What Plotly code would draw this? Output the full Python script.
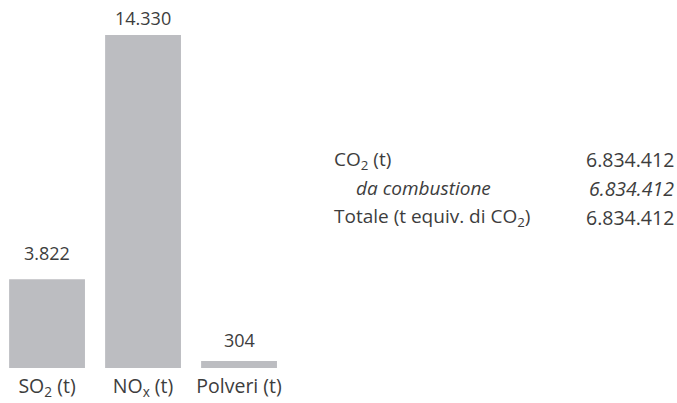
import plotly.graph_objects as go

categories = ["SO<sub>2</sub> (t)", "NO<sub>x</sub> (t)", "Polveri (t)"]
values = [3822, 14330, 304]
value_labels = ["3.822", "14.330", "304"]

table_labels = ["CO<sub>2</sub> (t)", "<i>da combustione</i>", "Totale (t equiv. di CO<sub>2</sub>)"]
table_values = ["6.834.412", "<i>6.834.412</i>", "6.834.412"]

FONT = "Open Sans"
TXT = "#3d3d3d"
W, H = 677, 403
plot_h = 368

fig = go.Figure(go.Bar(
    x=[0, 1, 2], y=values, cliponaxis=False,
    marker=dict(color="#bcbdc1", line=dict(width=0)), width=0.79,
))

label_shift = [26, 17, 21]
for i, (v, t) in enumerate(zip(values, value_labels)):
    fig.add_annotation(text=t, x=i, y=v, xref="x", yref="y", showarrow=False,
                       yanchor="middle", yshift=label_shift[i],
                       font=dict(family=FONT, size=18, color=TXT))

table_y = [160, 188, 217]
table_x_label = [332, 354, 332]
for lab, val, py, px in zip(table_labels, table_values, table_y, table_x_label):
    fig.add_annotation(text=lab, xref="paper", yref="paper", x=px / W, y=1 - py / plot_h,
                       xanchor="left", yanchor="middle", showarrow=False,
                       font=dict(family=FONT, size=19, color=TXT))
    fig.add_annotation(text=val, xref="paper", yref="paper", x=676 / W, y=1 - py / plot_h,
                       xanchor="right", yanchor="middle", showarrow=False,
                       font=dict(family=FONT, size=19.5, color=TXT))

fig.update_layout(
    width=W, height=H, margin=dict(l=0, r=0, t=0, b=H - plot_h),
    plot_bgcolor="white", paper_bgcolor="white", showlegend=False,
    xaxis=dict(range=[-0.49, -0.49 + W / 96], tickvals=[0, 1, 2], ticktext=categories,
               showgrid=False, zeroline=False, showline=False, ticks="",
               ticklabelstandoff=4,
               tickfont=dict(family=FONT, size=19.5, color=TXT)),
    yaxis=dict(range=[0, 14330 * plot_h / 333], visible=False),
)
fig.write_html("out.html", config={"displayModeBar": False},
               post_script="document.body.style.margin='0px';document.body.style.overflow='hidden';")
